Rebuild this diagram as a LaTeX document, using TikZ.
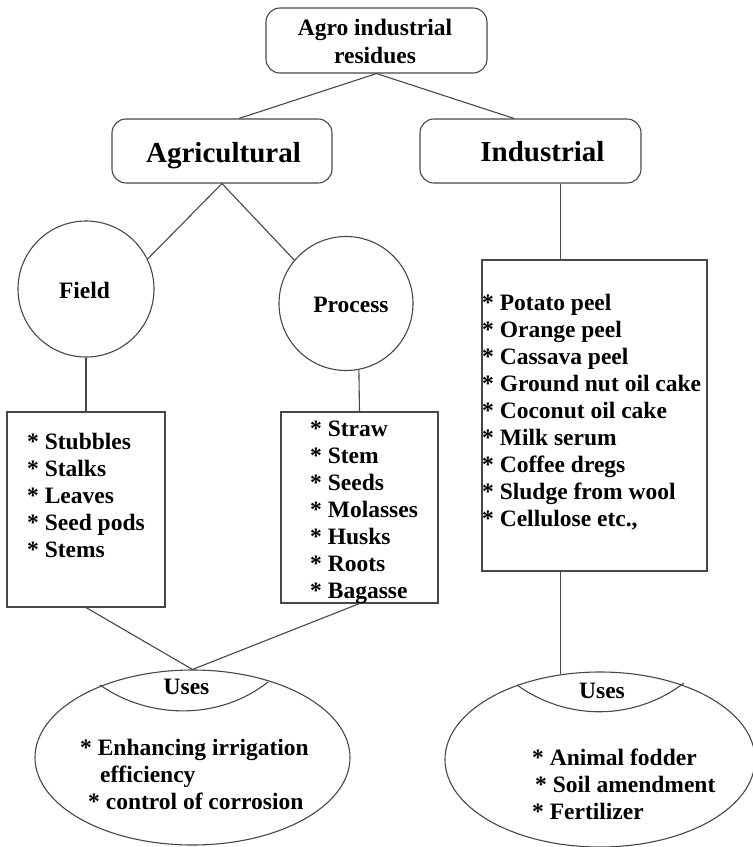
\documentclass[tikz,border=0pt]{standalone}
\usepackage{fontspec}
\setmainfont{Liberation Serif}
\usetikzlibrary{shapes.geometric}
\begin{document}
\begin{tikzpicture}[x=1pt,y=-1pt,
  ln/.style={draw=black!72, line width=1.1pt},
  rbox/.style={ln, rectangle, rounded corners=14pt, inner sep=0pt},
  sbox/.style={ln, rectangle, inner sep=0pt},
  circ/.style={ln, circle, inner sep=0pt},
  ell/.style={ln, ellipse, inner sep=0pt},
  txt/.style={font=\fontsize{23.5}{27}\selectfont\bfseries, inner sep=0pt, align=left},
  ttl/.style={font=\fontsize{23.5}{28}\selectfont\bfseries, inner sep=0pt, align=center},
  big/.style={font=\fontsize{29}{33}\selectfont\bfseries, inner sep=0pt}
]
\useasboundingbox (0,0) rectangle (753,847);

% shapes
\node[rbox, minimum width=221pt, minimum height=65pt] (top) at (376.5,40.5) {};
\node[rbox, minimum width=220pt, minimum height=64pt] (agri) at (222,151) {};
\node[rbox, minimum width=221pt, minimum height=64pt] (ind) at (530.5,151) {};
\node[circ, minimum size=136pt] (field) at (86,289) {};
\node[circ, minimum size=134pt] (process) at (346,303.5) {};
\node[sbox, minimum width=158pt, minimum height=195pt] (fbox) at (86,509.5) {};
\node[sbox, minimum width=157pt, minimum height=191pt] (pbox) at (359.5,507.5) {};
\node[sbox, minimum width=225pt, minimum height=311pt] (ibox) at (594.5,415.5) {};
\node[ell, minimum width=315pt, minimum height=175pt] (luse) at (192.5,757.5) {};
\node[ell, minimum width=310pt, minimum height=175pt] (ruse) at (600,759.5) {};

% texts
\node[ttl] (toptxt) at (375,41) {Agro industrial\\residues};
\node[big, anchor=base] (agritxt) at (223.5,162) {Agricultural};
\node[big, anchor=base] (indtxt) at (542.5,161) {Industrial};
\node[txt, anchor=base] (fieldtxt) at (84.5,298) {Field};
\node[txt, anchor=base] (proctxt) at (351,312) {Process};
\node[txt, anchor=north west] (flist) at (27,433) {* Stubbles\\* Stalks\\* Leaves\\* Seed pods\\* Stems};
\node[txt, anchor=north west] (plist) at (310,421) {* Straw\\* Stem\\* Seeds\\* Molasses\\* Husks\\* Roots\\* Bagasse};
\node[txt, anchor=north west] (ilist) at (482,294) {* Potato peel\\* Orange peel\\* Cassava peel\\* Ground nut oil cake\\* Coconut oil cake\\* Milk serum\\* Coffee dregs\\* Sludge from wool\\* Cellulose etc.,};
\node[txt, anchor=base] (lusetxt) at (186.5,694) {Uses};
\node[txt, anchor=base] (rusetxt) at (602,698) {Uses};
\node[txt, anchor=north west] (lusel) at (80,739) {* Enhancing irrigation\\\hspace*{20pt}efficiency\\\hspace*{8pt}* control of corrosion};
\node[txt, anchor=north west] (rusel) at (532,749) {* Animal fodder\\\hspace*{3pt}* Soil amendment\\* Fertilizer};

% connectors
\draw[ln] ([xshift=17pt]agri.north) -- (top.south) -- ([xshift=-16.5pt]ind.north);
\draw[ln] (field.26) -- (agri.south) -- (process.140);
\draw[ln] (field.south) -- (fbox.north);
\draw[ln] (process.-79) -- (pbox.north);
\draw[ln] (ind.south -| ruse.115) -- (ibox.north -| ruse.115);
\draw[ln] (fbox.south) -- (luse.north) -- (pbox.south);
\draw[ln] (ibox.south -| ruse.115) -- (ruse.115);

% Uses arcs
\draw[ln] (100,685) .. controls (150,720) and (220,720) .. (268,682);
\draw[ln] (517,685) .. controls (567,721) and (634,721) .. (684,683);
\end{tikzpicture}
\end{document}
